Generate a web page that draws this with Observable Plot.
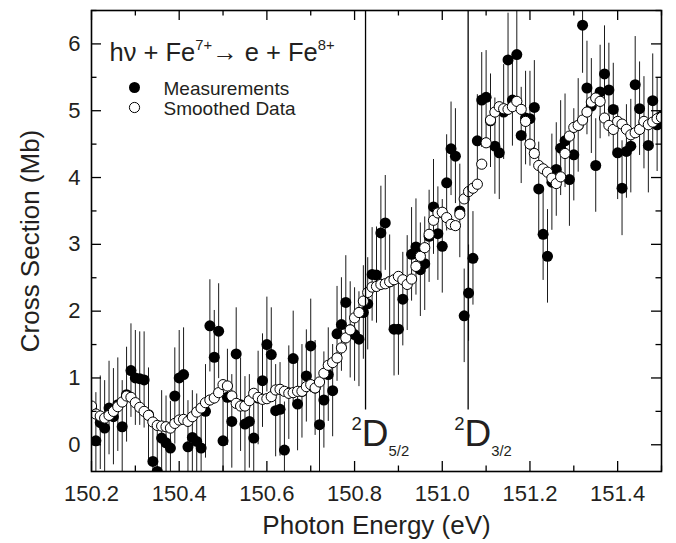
<!DOCTYPE html>
<html>
<head>
<meta charset="utf-8">
<script src="https://cdn.jsdelivr.net/npm/d3@7"></script>
<script src="https://cdn.jsdelivr.net/npm/@observablehq/plot@0.6"></script>
<style>
  html, body { margin: 0; padding: 0; background: #fff; }
</style>
</head>
<body>
<div id="chart"></div>
<script>
// ---------------- data ----------------
const energy = [
  150.20,150.21,150.22,150.23,150.24,150.25,150.26,150.27,150.28,150.29,
  150.30,150.31,150.32,150.33,150.34,150.35,150.36,150.37,150.38,150.39,
  150.40,150.41,150.42,150.43,150.44,150.45,150.46,150.47,150.48,150.49,
  150.50,150.51,150.52,150.53,150.54,150.55,150.56,150.57,150.58,150.59,
  150.60,150.61,150.62,150.63,150.64,150.65,150.66,150.67,150.68,150.69,
  150.70,150.71,150.72,150.73,150.74,150.75,150.76,150.77,150.78,150.79,
  150.80,150.81,150.82,150.83,150.84,150.85,150.86,150.87,150.88,150.89,
  150.90,150.91,150.92,150.93,150.94,150.95,150.96,150.97,150.98,150.99,
  151.00,151.01,151.02,151.03,151.04,151.05,151.06,151.07,151.08,151.09,
  151.10,151.11,151.12,151.13,151.14,151.15,151.16,151.17,151.18,151.19,
  151.20,151.21,151.22,151.23,151.24,151.25,151.26,151.27,151.28,151.29,
  151.30,151.31,151.32,151.33,151.34,151.35,151.36,151.37,151.38,151.39,
  151.40,151.41,151.42,151.43,151.44,151.45,151.46,151.47,151.48,151.49,
  151.50
];
const measured = [
  0.55,0.06,0.33,0.25,0.55,0.42,0.60,0.27,0.75,1.11,
  1.00,0.99,0.97,0.45,-0.25,-0.40,0.10,0.03,-0.05,0.73,
  1.00,1.05,-0.03,0.11,0.05,-0.05,0.50,1.78,1.31,1.70,
  0.06,0.71,0.35,1.36,0.60,0.31,0.35,0.10,0.70,0.96,
  1.50,1.35,0.51,0.53,-0.08,0.78,1.29,0.61,0.80,1.03,
  1.48,0.85,0.30,0.67,1.05,0.81,1.66,1.80,2.13,1.72,
  1.65,1.58,1.98,2.11,2.55,2.54,3.17,3.32,2.44,1.73,
  1.73,2.18,2.42,2.85,2.96,2.62,2.71,3.12,3.56,3.16,
  2.97,3.92,4.43,4.32,3.50,1.93,2.27,2.79,4.55,5.16,
  5.20,4.85,4.47,4.37,4.98,5.76,5.16,5.84,4.63,4.89,
  4.88,5.05,3.83,3.15,2.82,3.93,4.12,4.44,4.55,3.97,
  4.34,4.78,6.28,5.34,5.07,4.18,5.28,5.55,5.31,5.02,
  4.37,3.84,4.39,4.47,5.39,5.03,4.82,4.48,5.15,4.79,
  4.92
];
const measuredErr = [
  0.72,0.72,0.70,0.71,0.70,0.72,0.70,0.69,0.71,0.70,
  0.71,0.70,0.72,0.70,0.69,0.70,0.71,0.70,0.70,0.72,
  0.71,0.70,0.69,0.70,0.71,0.70,0.70,0.69,0.70,0.71,
  0.70,0.72,0.70,0.69,0.70,0.71,0.70,0.72,0.70,0.70,
  0.71,0.70,0.69,0.70,0.72,0.70,0.71,0.70,0.70,0.69,
  0.70,0.71,0.70,0.72,0.70,0.69,0.71,0.70,0.70,0.72,
  0.70,0.71,0.70,0.69,0.70,0.72,0.70,0.71,0.70,0.70,
  0.69,0.70,0.71,0.70,0.72,0.70,0.70,0.69,0.71,0.70,
  0.70,0.72,0.70,0.71,0.70,0.70,0.72,0.70,0.69,0.71,
  0.70,0.70,0.72,0.70,0.71,0.70,0.69,0.70,0.72,0.70,
  0.71,0.70,0.70,0.69,0.70,0.72,0.70,0.71,0.70,0.70,
  0.69,0.70,0.72,0.70,0.71,0.70,0.70,0.72,0.70,0.69,
  0.70,0.71,0.70,0.70,0.72,0.70,0.69,0.71,0.70,0.70,
  0.71
];
const smoothed = [
  0.58,0.46,0.43,0.40,0.44,0.50,0.57,0.64,0.73,0.71,
  0.63,0.56,0.50,0.44,0.34,0.29,0.28,0.27,0.25,0.32,
  0.37,0.38,0.35,0.42,0.49,0.55,0.63,0.67,0.70,0.78,
  0.90,0.88,0.73,0.62,0.58,0.58,0.66,0.77,0.71,0.68,
  0.69,0.72,0.82,0.83,0.80,0.77,0.78,0.80,0.80,0.87,
  0.90,0.85,0.94,1.07,1.19,1.23,1.30,1.45,1.60,1.72,
  1.90,1.98,2.15,2.28,2.36,2.37,2.40,2.41,2.44,2.47,
  2.52,2.47,2.40,2.48,2.67,2.82,2.95,3.15,3.36,3.47,
  3.48,3.40,3.30,3.28,3.45,3.68,3.79,3.84,3.90,4.20,
  4.52,4.86,4.98,5.06,5.03,5.02,5.06,5.14,5.02,4.84,
  4.50,4.36,4.18,4.13,4.08,3.99,3.91,4.01,4.36,4.62,
  4.75,4.78,4.86,4.98,5.13,5.19,5.14,4.89,4.78,4.72,
  4.84,4.80,4.72,4.64,4.67,4.72,4.84,4.79,4.83,4.88,
  4.90
];
const levelEnergy = [150.825, 151.059];
const levelBottom = 0.52;
const levelParts = [
  [["2","sup"],["D",""],["5/2","sub"]],
  [["2","sup"],["D",""],["3/2","sub"]]
];
const titleParts = [["hν + Fe",""],["7+","sup"],["→ e + Fe",""],["8+","sup"]];
const legendLabels = ["Measurements", "Smoothed Data"];
const xMajorTicks = [150.2,150.4,150.6,150.8,151.0,151.2,151.4];
const xMinorTicks = [150.3,150.5,150.7,150.9,151.1,151.3,151.5];
const yMajorTicks = [0,1,2,3,4,5,6];
const yMinorTicks = [0.5,1.5,2.5,3.5,4.5,5.5,6.5];
const xDomain = [150.2, 151.5];
const yDomain = [-0.4, 6.5];
const xLabel = "Photon Energy (eV)";
const yLabel = "Cross Section (Mb)";

// ---------------- layout ----------------
const W = 676, H = 543, mL = 91, mR = 15, mT = 10, mB = 72;
const pw = W - mL - mR, ph = H - mT - mB;
const font = "'Liberation Sans', Arial, Helvetica, sans-serif";
const ink = "#231f20";
const join = parts => parts.map(p => p[0]).join("");

const meas = energy.map((e, i) => ({e, v: measured[i], err: measuredErr[i]}));
const smooth = energy.map((e, i) => ({e, v: smoothed[i]}));

const majorLen = 10, minorLen = 5.5, tickW = 1.3;
const rFill = 5.5, rOpen = 5.1;

const chart = Plot.plot({
  width: W, height: H,
  marginLeft: mL, marginRight: mR, marginTop: mT, marginBottom: mB,
  style: {fontFamily: font, background: "#fff", color: ink},
  x: {domain: xDomain},
  y: {domain: yDomain},
  marks: [
    // error bars
    Plot.ruleX(meas, {x: "e", y1: d => d.v - d.err, y2: d => d.v + d.err,
      stroke: "#1a1a1a", strokeWidth: 1, clip: true}),
    // measurements
    Plot.dot(meas, {x: "e", y: "v", r: rFill, fill: "#000", stroke: "none", clip: true}),
    // smoothed
    Plot.dot(smooth, {x: "e", y: "v", r: rOpen, fill: "#fff", stroke: "#000", strokeWidth: 1, clip: true}),
    // threshold lines
    Plot.ruleX(levelEnergy, {x: d => d, y1: levelBottom, y2: yDomain[1], stroke: "#000", strokeWidth: 1.3}),
    // ticks (inward, all four sides)
    Plot.ruleX(xMajorTicks, {x: d => d, insetTop: ph - majorLen, stroke: "#000", strokeWidth: tickW}),
    Plot.ruleX(xMajorTicks, {x: d => d, insetBottom: ph - majorLen, stroke: "#000", strokeWidth: tickW}),
    Plot.ruleX(xMinorTicks, {x: d => d, insetTop: ph - minorLen, stroke: "#000", strokeWidth: tickW}),
    Plot.ruleX(xMinorTicks, {x: d => d, insetBottom: ph - minorLen, stroke: "#000", strokeWidth: tickW}),
    Plot.ruleY(yMajorTicks, {y: d => d, insetRight: pw - majorLen, stroke: "#000", strokeWidth: tickW}),
    Plot.ruleY(yMajorTicks, {y: d => d, insetLeft: pw - majorLen, stroke: "#000", strokeWidth: tickW}),
    Plot.ruleY(yMinorTicks, {y: d => d, insetRight: pw - minorLen, stroke: "#000", strokeWidth: tickW}),
    Plot.ruleY(yMinorTicks, {y: d => d, insetLeft: pw - minorLen, stroke: "#000", strokeWidth: tickW}),
    Plot.frame({stroke: "#000", strokeWidth: 1.6}),
    // tick labels
    Plot.axisX(xMajorTicks, {tickSize: 0, tickPadding: 14, tickFormat: d3.format(".1f"),
      fontSize: 22, fill: ink, label: null}),
    Plot.axisY(yMajorTicks, {tickSize: 0, tickPadding: 11, tickFormat: d3.format("d"),
      fontSize: 22, fill: ink, label: null}),
    // axis titles
    Plot.text([xLabel], {text: d => d, frameAnchor: "bottom", dy: 62, lineAnchor: "bottom",
      textAnchor: "middle", fontSize: 26, fill: ink}),
    Plot.text([yLabel], {text: d => d, frameAnchor: "left", dx: -53, rotate: -90, lineAnchor: "bottom",
      textAnchor: "middle", fontSize: 26, fill: ink}),
    // reaction title
    Plot.text([join(titleParts)], {text: d => d, frameAnchor: "top-left", dx: 18, dy: 50,
      textAnchor: "start", lineAnchor: "bottom", fontSize: 25.5, fill: ink}),
    // legend
    Plot.dot([legendLabels[0]], {x: null, y: null, frameAnchor: "top-left", dx: 43, dy: 77,
      r: rFill, fill: "#000", stroke: "none"}),
    Plot.dot([legendLabels[1]], {x: null, y: null, frameAnchor: "top-left", dx: 43, dy: 97,
      r: rOpen, fill: "#fff", stroke: "#000", strokeWidth: 1}),
    Plot.text([legendLabels[0]], {text: d => d, frameAnchor: "top-left", dx: 72, dy: 78,
      textAnchor: "start", lineAnchor: "middle", fontSize: 19, fill: ink}),
    Plot.text([legendLabels[1]], {text: d => d, frameAnchor: "top-left", dx: 72, dy: 98,
      textAnchor: "start", lineAnchor: "middle", fontSize: 19, fill: ink}),
    // level labels
    Plot.text(levelEnergy, {x: d => d, text: (d, i) => join(levelParts[i]), frameAnchor: "bottom",
      dx: -14, dy: -26, textAnchor: "start", lineAnchor: "bottom", fontSize: 37, fill: ink})
  ]
});

// ---------------- rich text (super/subscripts) ----------------
const richSpecs = new Map();
richSpecs.set(join(titleParts), {parts: titleParts, size: 25.5, sup: [0.58, -0.40], sub: [0.58, 0.3]});
levelParts.forEach(p => richSpecs.set(join(p), {parts: p, size: 37, sup: [0.5, -0.42], sub: [0.4, 0.28]}));

function rich(el, spec) {
  el.removeAttribute("dy");
  while (el.firstChild) el.removeChild(el.firstChild);
  let cur = 0;
  for (const [s, kind] of spec.parts) {
    const ts = document.createElementNS("http://www.w3.org/2000/svg", "tspan");
    const k = kind === "sup" ? spec.sup : kind === "sub" ? spec.sub : [1, 0];
    const target = k[1] * spec.size;
    if (target !== cur) ts.setAttribute("dy", target - cur);
    ts.setAttribute("font-size", k[0] * spec.size);
    ts.textContent = s;
    el.appendChild(ts);
    cur = target;
  }
}
d3.select(chart).selectAll("text").each(function () {
  const spec = richSpecs.get(this.textContent);
  if (spec) rich(this, spec);
});

document.getElementById("chart").appendChild(chart);
</script>
</body>
</html>
